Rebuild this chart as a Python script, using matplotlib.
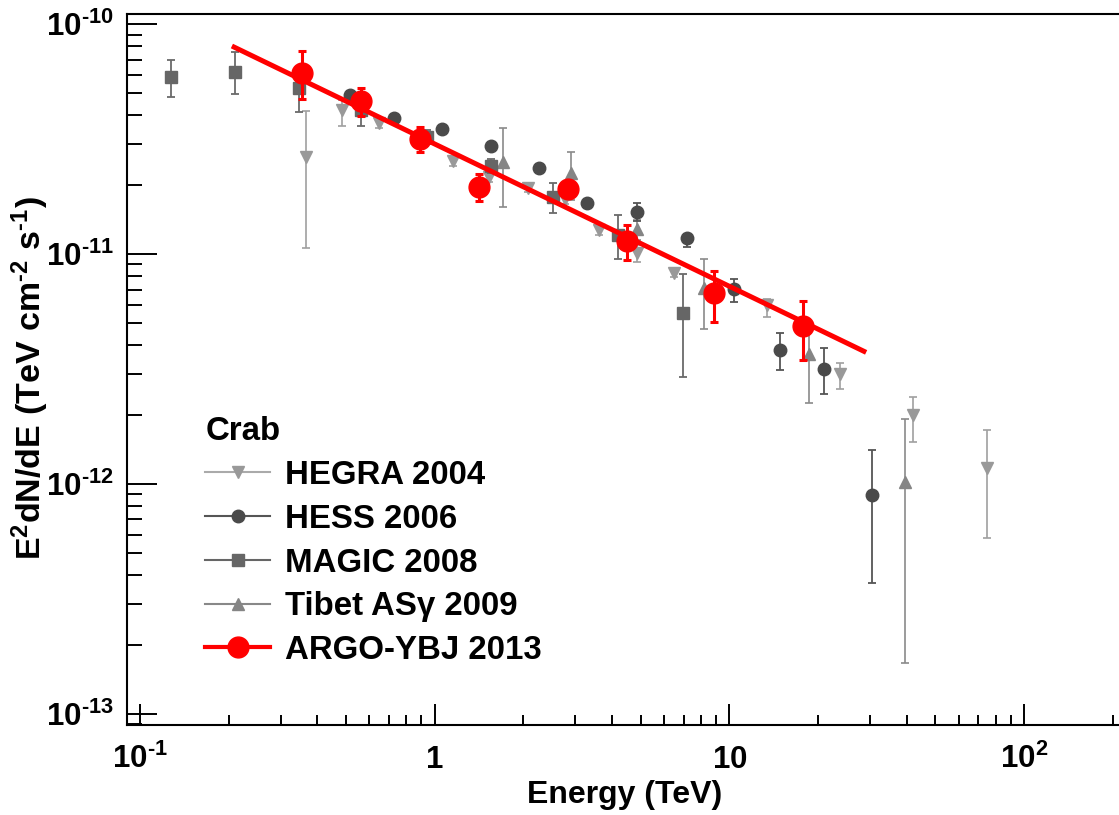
import numpy as np
import matplotlib
matplotlib.use('Agg')
import matplotlib.pyplot as plt
from matplotlib.lines import Line2D
from matplotlib.ticker import FixedLocator, FixedFormatter, LogLocator, NullFormatter

plt.rcParams['font.family'] = ['Liberation Sans', 'DejaVu Sans']
plt.rcParams['font.weight'] = 'bold'
plt.rcParams['mathtext.fontset'] = 'custom'
plt.rcParams['mathtext.rm'] = 'Liberation Sans:bold'
plt.rcParams['mathtext.bf'] = 'Liberation Sans:bold'
plt.rcParams['mathtext.it'] = 'Liberation Sans:bold'
plt.rcParams['mathtext.default'] = 'bf'

# ---- data : E (TeV), E^2 dN/dE (TeV cm^-2 s^-1), upper / lower ends of error bars
hegra_e = [0.366, 0.485, 0.645, 1.155, 1.53, 2.07, 2.77, 3.61, 4.86, 6.49, 13.4, 23.8, 42.0, 74.9]
hegra_f = [2.64e-11, 4.23e-11, 3.71e-11, 2.54e-11, 2.16e-11, 1.94e-11, 1.73e-11, 1.27e-11,
           1.01e-11, 8.26e-12, 5.99e-12, 3.00e-12, 1.99e-12, 1.17e-12]
hegra_hi = [4.18e-11, 4.67e-11, 3.90e-11, 2.66e-11, 2.27e-11, 2.03e-11, 1.82e-11, 1.33e-11,
            1.09e-11, 8.60e-12, 6.36e-12, 3.35e-12, 2.39e-12, 1.71e-12]
hegra_lo = [1.06e-11, 3.60e-11, 3.53e-11, 2.42e-11, 2.05e-11, 1.85e-11, 1.65e-11, 1.21e-11,
            9.22e-12, 7.90e-12, 5.31e-12, 2.58e-12, 1.52e-12, 5.81e-13]

hess_e = [0.516, 0.728, 1.06, 1.55, 2.26, 3.29, 4.86, 7.19, 10.4, 14.8, 21.0, 30.5]
hess_f = [4.91e-11, 3.90e-11, 3.49e-11, 2.95e-11, 2.36e-11, 1.67e-11, 1.52e-11, 1.17e-11,
          7.04e-12, 3.82e-12, 3.16e-12, 8.94e-13]
hess_hi = [5.10e-11, 4.05e-11, 3.62e-11, 3.06e-11, 2.45e-11, 1.73e-11, 1.67e-11, 1.22e-11,
           7.78e-12, 4.53e-12, 3.90e-12, 1.40e-12]
hess_lo = [4.72e-11, 3.75e-11, 3.36e-11, 2.84e-11, 2.27e-11, 1.61e-11, 1.39e-11, 1.07e-11,
           6.18e-12, 3.13e-12, 2.46e-12, 3.70e-13]

magic_e = [0.1275, 0.210, 0.347, 0.5625, 0.942, 1.554, 2.52, 4.19, 6.96]
magic_f = [5.88e-11, 6.18e-11, 5.27e-11, 4.23e-11, 3.23e-11, 2.41e-11, 1.77e-11, 1.21e-11, 5.53e-12]
magic_hi = [6.97e-11, 7.55e-11, 6.31e-11, 4.67e-11, 3.45e-11, 2.58e-11, 2.03e-11, 1.48e-11, 8.18e-12]
magic_lo = [4.81e-11, 4.96e-11, 4.14e-11, 3.60e-11, 3.02e-11, 2.25e-11, 1.51e-11, 9.50e-12, 2.91e-12]

tibet_e = [1.707, 2.90, 4.86, 8.21, 18.6, 39.5]
tibet_f = [2.51e-11, 2.25e-11, 1.28e-11, 7.11e-12, 3.67e-12, 1.02e-12]
tibet_hi = [3.53e-11, 2.77e-11, 1.41e-11, 9.50e-12, 4.67e-12, 1.91e-12]
tibet_lo = [1.60e-11, 1.72e-11, 1.15e-11, 4.71e-12, 2.25e-12, 1.66e-13]

argo_e = [0.354, 0.563, 0.892, 1.415, 2.83, 4.48, 8.87, 17.75]
argo_f = [6.14e-11, 4.62e-11, 3.15e-11, 1.95e-11, 1.92e-11, 1.14e-11, 6.78e-12, 4.86e-12]
argo_hi = [7.65e-11, 5.27e-11, 3.55e-11, 2.23e-11, 2.05e-11, 1.33e-11, 8.45e-12, 6.26e-12]
argo_lo = [4.70e-11, 3.99e-11, 2.77e-11, 1.70e-11, 1.79e-11, 9.41e-12, 5.07e-12, 3.46e-12]

# power-law fit (straight line in log-log), end points
fit_e = [0.205, 29.1]
fit_f = [8.02e-11, 3.73e-12]

xticks = [0.1, 1, 10, 100]
xticklabels = ['$10^{\u2010 1}$', '$1$', '$10$', '$10^{2}$']
yticks = [1e-13, 1e-12, 1e-11, 1e-10]
yticklabels = ['$10^{\u2010 13}$', '$10^{\u2010 12}$', '$10^{\u2010 11}$', '$10^{\u2010 10}$']


def yerr(f, lo, hi):
    f, lo, hi = np.array(f), np.array(lo), np.array(hi)
    return [f - lo, hi - f]


fig = plt.figure(figsize=(11.19, 8.15), dpi=100)
ax = fig.add_axes([0.1132, 0.1104, 0.8922, 0.8724])
ax.set_xscale('log')
ax.set_yscale('log')

# data sets
ax.errorbar(hegra_e, hegra_f, yerr=yerr(hegra_f, hegra_lo, hegra_hi), fmt='v', ms=8.6,
            color='#999999', ecolor='#a0a0a0', elinewidth=1.2, capsize=3.2, capthick=1.2, zorder=2)
ax.errorbar(hess_e, hess_f, yerr=yerr(hess_f, hess_lo, hess_hi), fmt='o', ms=9,
            color='#4a4a4a', ecolor='#555555', elinewidth=1.3, capsize=3.2, capthick=1.3, zorder=3)
ax.errorbar(magic_e, magic_f, yerr=yerr(magic_f, magic_lo, magic_hi), fmt='s', ms=8.6,
            color='#666666', ecolor='#6a6a6a', elinewidth=1.3, capsize=3.2, capthick=1.3, zorder=3)
ax.errorbar(tibet_e, tibet_f, yerr=yerr(tibet_f, tibet_lo, tibet_hi), fmt='^', ms=8.6,
            color='#858585', ecolor='#8a8a8a', elinewidth=1.2, capsize=3.2, capthick=1.2, zorder=2)

ax.plot(fit_e, fit_f, color='#ff0000', lw=3.6, solid_capstyle='butt', zorder=4)
ax.errorbar(argo_e, argo_f, yerr=yerr(argo_f, argo_lo, argo_hi), fmt='o', ms=15,
            color='#ff0000', ecolor='#ff0000', elinewidth=2.2, capsize=3.2, capthick=2.2, zorder=5)

# axes
ax.set_xlim(0.0901, 220)
ax.set_ylim(8.93e-14, 1.105e-10)
ax.xaxis.set_major_locator(FixedLocator(xticks))
ax.xaxis.set_major_formatter(FixedFormatter(xticklabels))
ax.yaxis.set_major_locator(FixedLocator(yticks))
ax.yaxis.set_major_formatter(FixedFormatter(yticklabels))
ax.xaxis.set_minor_locator(LogLocator(base=10, subs=np.arange(2, 10), numticks=20))
ax.yaxis.set_minor_locator(LogLocator(base=10, subs=np.arange(2, 10), numticks=20))
ax.xaxis.set_minor_formatter(NullFormatter())
ax.yaxis.set_minor_formatter(NullFormatter())

ax.tick_params(axis='both', which='both', direction='in', top=False, right=False, width=1.4)
ax.tick_params(axis='x', which='major', length=15, pad=31, labelsize=22.5)
ax.tick_params(axis='x', which='minor', length=7.5)
ax.tick_params(axis='y', which='major', length=21.6, pad=9, labelsize=22.5)
ax.tick_params(axis='y', which='minor', length=10.8)
for lbl in ax.get_xticklabels():
    lbl.set_va('baseline')
for sp in ax.spines.values():
    sp.set_linewidth(1.5)

fig.text(625 / 1119, 1 - 795 / 815, 'Energy (TeV)', fontsize=23, ha='center', va='center')
fig.text(30 / 1119, 1 - 378 / 815, '$E^{2}dN/dE\\ (TeV\\ cm^{\u2010 2}\\ s^{\u2010 1})$', fontsize=24.5,
         rotation=90, ha='center', va='center')

# legend
handles = [
    Line2D([], [], color='#aaaaaa', lw=1.5, marker='v', ms=8.6, mfc='#999999', mec='#999999'),
    Line2D([], [], color='#555555', lw=1.5, marker='o', ms=9, mfc='#4a4a4a', mec='#4a4a4a'),
    Line2D([], [], color='#666666', lw=1.5, marker='s', ms=8.6, mfc='#666666', mec='#666666'),
    Line2D([], [], color='#888888', lw=1.5, marker='^', ms=8.6, mfc='#858585', mec='#858585'),
    Line2D([], [], color='#ff0000', lw=3.0, marker='o', ms=15, mfc='#ff0000', mec='#ff0000'),
]
labels = ['HEGRA 2004', 'HESS 2006', 'MAGIC 2008', 'Tibet AS\u03b3 2009', 'ARGO-YBJ 2013']
leg = ax.legend(handles, labels, loc='upper left', bbox_to_anchor=(0.049, 0.476), frameon=False,
                title='Crab', fontsize=23.8, title_fontsize=23.8, handlelength=1.95,
                handletextpad=0.45, labelspacing=0.385, alignment='left', borderpad=0.4)

fig.savefig('out.png', dpi=100)
